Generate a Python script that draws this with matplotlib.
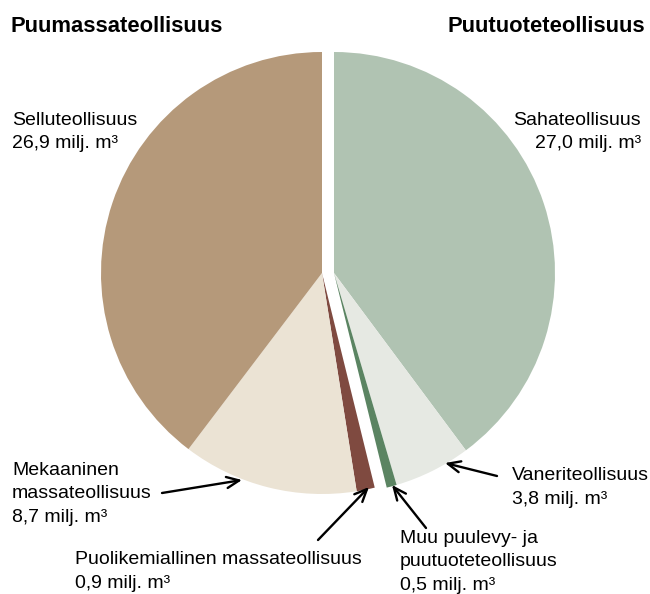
import matplotlib
matplotlib.use("Agg")
import matplotlib.pyplot as plt
from matplotlib import font_manager

names = {f.name for f in font_manager.fontManager.ttflist}
FONT = "Liberation Sans Narrow" if "Liberation Sans Narrow" in names else "Liberation Sans"
plt.rcParams['font.family'] = [FONT, 'DejaVu Sans']

# Data
right_labels = ["Sahateollisuus", "Vaneriteollisuus", "Muu puulevy- ja puutuoteteollisuus"]
right_values = [27.0, 3.8, 0.5]
left_labels = ["Puolikemiallinen massateollisuus", "Mekaaninen massateollisuus", "Selluteollisuus"]
left_values = [0.9, 8.7, 26.9]
right_colors = ["#b0c3b2", "#e6e9e3", "#5b8462"]
left_colors = ["#7f4a40", "#ebe3d4", "#b5997a"]
group_titles = ["Puumassateollisuus", "Puutuoteteollisuus"]

W, H = 650, 594
fig = plt.figure(figsize=(W / 100, H / 100), dpi=100)
ax = fig.add_axes([0, 0, 1, 1])

def Y(p):
    return H - p

total = sum(right_values) + sum(left_values)
R = 221
cy = Y(273)
right_frac = [v / total for v in right_values]
left_frac = [v / total for v in left_values]

ax.pie(right_frac, normalize=False, startangle=90, counterclock=False,
       center=(334, cy), radius=R, colors=right_colors,
       wedgeprops=dict(linewidth=0))
ax.pie(left_frac, normalize=False, startangle=90 - 360 * sum(right_frac),
       counterclock=False, center=(322, cy), radius=R, colors=left_colors,
       wedgeprops=dict(linewidth=0))

ax.set_xlim(0, W)
ax.set_ylim(0, H)
ax.set_aspect('equal')
ax.axis('off')

fs = 14
ax.text(10, Y(27), group_titles[0], fontsize=15.8, fontweight='bold', ha='left', va='center')
ax.text(645, Y(27), group_titles[1], fontsize=15.8, fontweight='bold', ha='right', va='center')

def lab(x, y, s, ha='left'):
    ax.text(x, Y(y), s, fontsize=fs, ha=ha, va='top', linespacing=1.5)

lab(12, 112, "Selluteollisuus\n26,9 milj. m³")
lab(641, 112, "Sahateollisuus\n27,0 milj. m³", ha='right')
lab(12, 462, "Mekaaninen\nmassateollisuus\n8,7 milj. m³")
lab(75, 551, "Puolikemiallinen massateollisuus\n0,9 milj. m³")
lab(400, 530, "Muu puulevy- ja\npuutuoteteollisuus\n0,5 milj. m³")
lab(512, 467, "Vaneriteollisuus\n3,8 milj. m³")

arrows = [
    ((162, 493), (242, 480)),
    ((318, 540), (369, 487)),
    ((426, 528), (392, 485)),
    ((497, 476), (445, 463)),
]
for (tx, ty), (hx, hy) in arrows:
    ax.annotate("", xy=(hx, Y(hy)), xytext=(tx, Y(ty)),
                arrowprops=dict(arrowstyle="->,head_length=0.9,head_width=0.4",
                                lw=1.7, color="black", shrinkA=0, shrinkB=0))

fig.savefig("out.png", dpi=100)
